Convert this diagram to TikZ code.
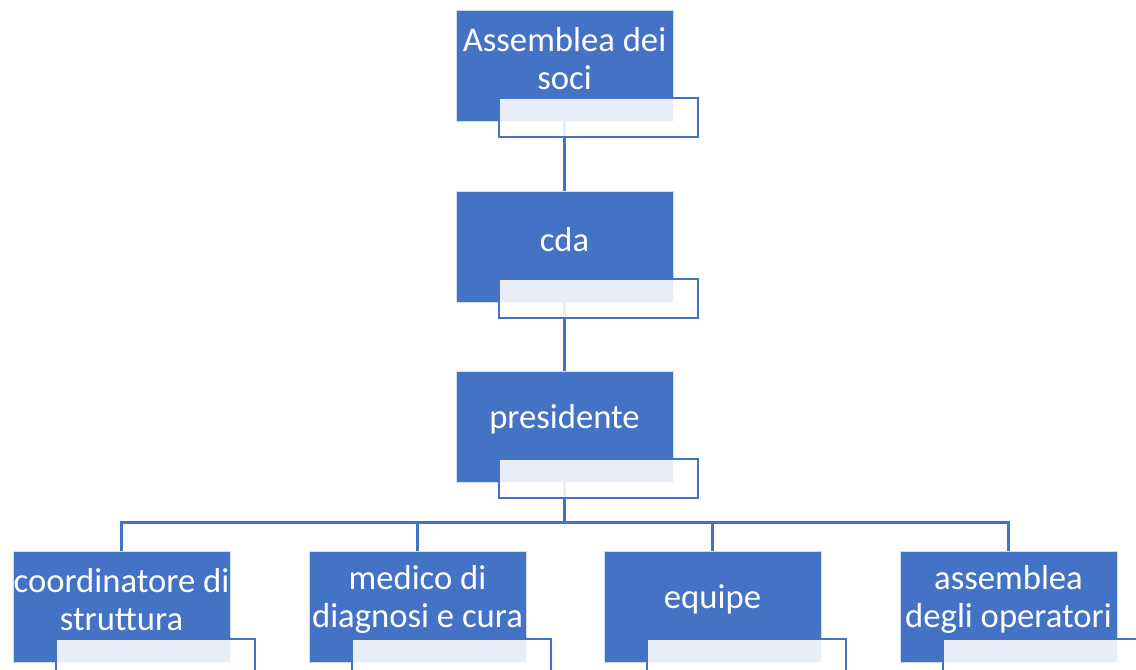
\documentclass[tikz,border=0pt]{standalone}
\usepackage{fontspec}
\setmainfont{Carlito}
\usepackage{xcolor}
\usepackage{tikz}
\usetikzlibrary{calc}
\definecolor{orgblue}{HTML}{4472C4}
\tikzstyle{unit}=[rectangle,fill=orgblue,draw=white!75!orgblue,line width=0.5pt,minimum width=162.75pt,minimum height=83.25pt,inner sep=0pt]
\tikzstyle{tag}=[rectangle,draw=orgblue,line width=1.8pt,fill=white,fill opacity=0.88,minimum width=149.25pt,minimum height=29.25pt,inner sep=0pt,anchor=north west]
\tikzstyle{caption}=[text=white,align=center,font=\fontsize{26}{28}\selectfont,inner sep=0pt]
\tikzstyle{link}=[draw=orgblue,line width=1.8pt]

\begin{document}
\begin{tikzpicture}[x=0.75pt,y=-0.75pt]

  \useasboundingbox (0,0) rectangle (1136,670);
  \clip (0,0) rectangle (1136,670);

  \foreach \x/\y/\name/\label in {564.5/65.5/soci/{Assemblea dei\\soci}, 564.5/246.5/cda/{cda}, 564.5/426.5/pres/{presidente},
      121.5/606.5/coord/{coordinatore di\\struttura}, 417.5/606.5/medico/{medico di\\diagnosi e cura},
      712.5/606.5/equipe/{equipe}, 1008.5/606.5/opera/{assemblea\\degli operatori}}
  {
     \node[unit] (\name) at (\x, \y) {};
     \node[caption] (\name-t) at (\x, \y-7) {\label};
  }

  \foreach \source/\dest in {soci/cda, cda/pres}
         \path[link] (\source.south) -- (\dest.north);

  \foreach \dest in {coord, medico, equipe, opera}
         \path[link] (pres.south) -- ++(0,40) -| (\dest.north);

%   tags below each box
  \foreach \name in {soci, cda, pres, coord, medico, equipe, opera}
         \node[tag] (\name-s) at ($(\name.north west)+(42,87)$) {};

\end{tikzpicture}
\end{document}
